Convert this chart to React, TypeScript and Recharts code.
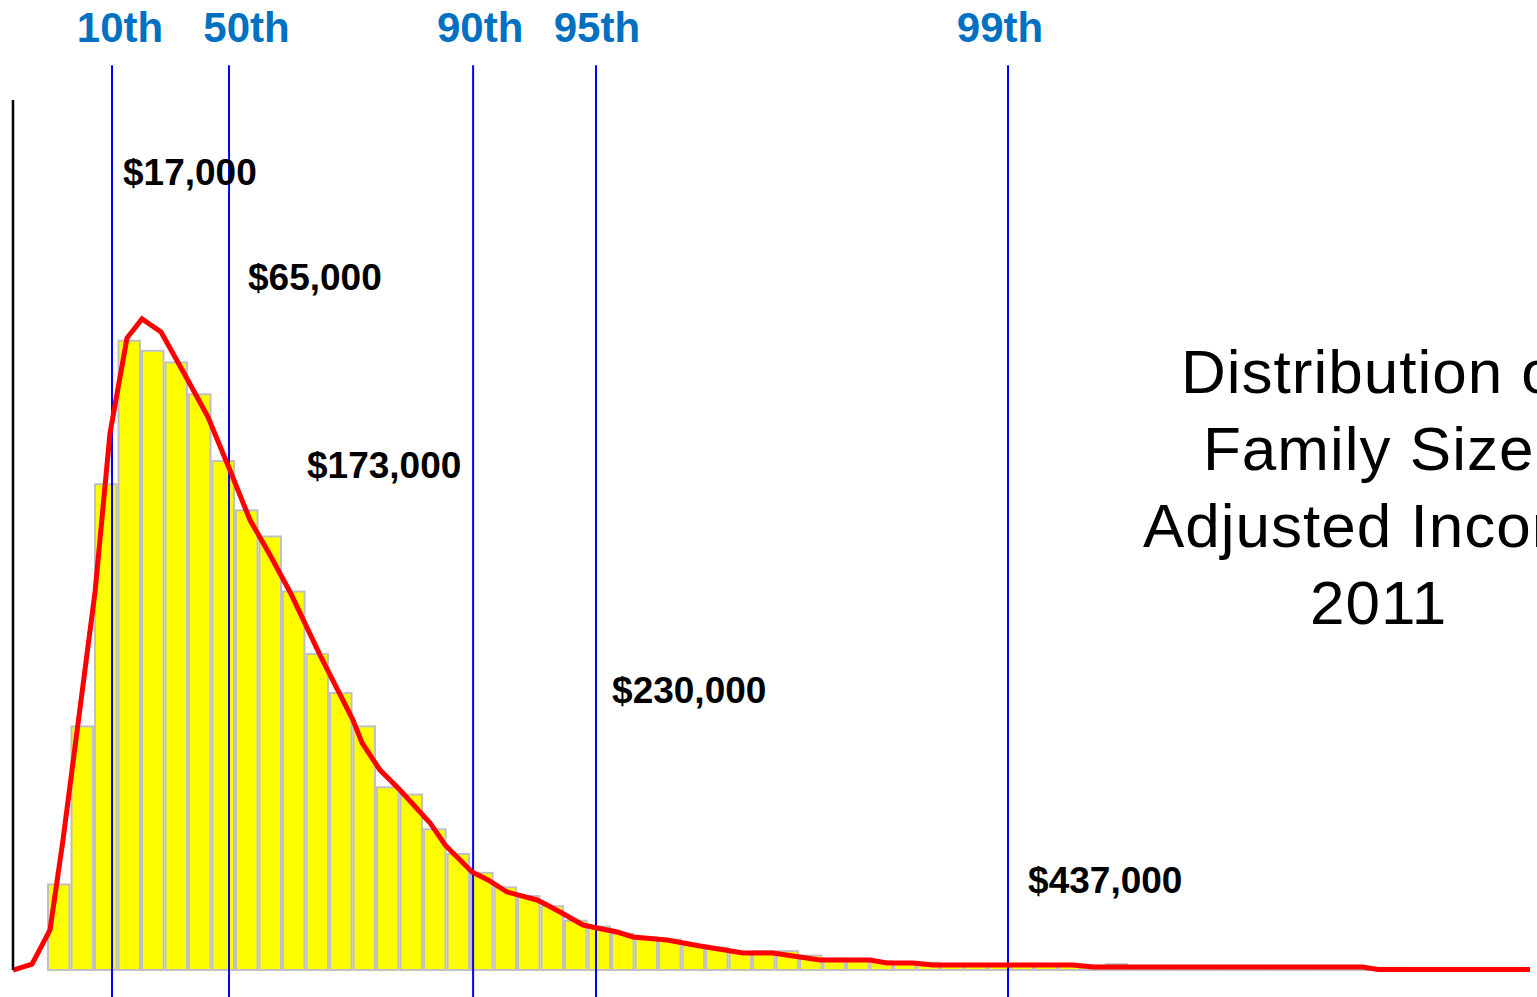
import {
    ComposedChart,
    Bar,
    Line,
    XAxis,
    YAxis,
    ReferenceLine,
    ReferenceDot,
} from "recharts";

// share of families per income bin (histogram, arbitrary units)
const binShares = [
    0.59, 1.68, 3.35, 4.34, 4.27, 4.19, 3.97, 3.51, 3.17, 2.99, 2.61, 2.18,
    1.91, 1.68, 1.26, 1.21, 0.97, 0.8, 0.67, 0.57, 0.51, 0.44, 0.34, 0.3,
    0.25, 0.225, 0.21, 0.17, 0.155, 0.12, 0.13, 0.13, 0.1, 0.08, 0.075, 0.06,
    0.055, 0.05, 0.04, 0.04, 0.04, 0.04, 0.04, 0.035, 0.03, 0.04, 0.02, 0.015,
    0.015, 0.015, 0.015, 0.015, 0.015, 0.015, 0.015, 0.015, 0.015, 0.015,
    0.005, 0.005, 0.005, 0.005, 0.005,
];

// smoothed density curve (x in bin units)
const curveX = [
    -1.447, -0.638, 0.128, 0.681, 2.043, 2.681, 3.404, 4.043, 4.851, 5.872,
    6.851, 7.745, 8.638, 9.489, 10.34, 11.617, 13.02, 13.404, 14.17, 15.02,
    16.3, 16.936, 18.085, 18.766, 19.574, 20.85, 21.277, 21.83, 22.81, 23.4,
    24.26, 24.94, 26.38, 27.79, 29.62, 30.89, 32.89, 35.02, 35.74, 36.85,
    37.7, 43.66, 44.51, 55.96, 56.64, 63.1,
];
const curveY = [
    0, 0.041, 0.276, 0.897, 2.607, 3.703, 4.359, 4.49, 4.4, 4.103, 3.814,
    3.462, 3.103, 2.862, 2.607, 2.172, 1.724, 1.566, 1.379, 1.241, 1.014,
    0.862, 0.676, 0.621, 0.538, 0.483, 0.448, 0.4, 0.31, 0.29, 0.262, 0.228,
    0.207, 0.166, 0.117, 0.117, 0.069, 0.069, 0.048, 0.048, 0.034, 0.034,
    0.021, 0.021, 0.004, 0.004,
];

const percentileNames = ["10th", "50th", "90th", "95th", "99th"];
const percentileBins = [2.766, 7.745, 18.13, 23.36, 40.89];
const percentileIncomes = ["$17,000", "$65,000", "$173,000", "$230,000", "$437,000"];

const titleLines = ["Distribution of", "Family Size", "Adjusted Income", "2011"];

// where the labels sit, in chart units
const nameSpots = [3.106, 8.489, 18.43, 23.4, 40.55];
const incomeSpots = [
    { x: 3.234, y: 5.414 },
    { x: 8.553, y: 4.69 },
    { x: 11.064, y: 3.393 },
    { x: 24.043, y: 1.841 },
    { x: 41.745, y: 0.531 },
];
const titleLeft = [1181, 1203, 1143, 1310];

const font = "'Liberation Sans', Arial, sans-serif";
const BAR_W = 21.5;

const bars = binShares.map((v, i) => ({ x: i + 0.5, share: v }));
const curve = curveX.map((x, i) => ({ x, density: curveY[i] }));

// fixed-width bar centred on its bin
function BinBar(props: any) {
    const { x, y, width, height } = props;
    if (height == null || height <= 0) return null;
    const cx = x + width / 2;
    return (
        <rect
            x={cx - BAR_W / 2}
            y={y}
            width={BAR_W}
            height={height}
            fill="#FFFF00"
            stroke="#C0C0C0"
            strokeWidth={2}
        />
    );
}

export default function App() {
    return (
        <div style={{ position: "absolute", left: 0, top: 0, background: "#fff" }}>
            <ComposedChart
                width={1537}
                height={997}
                data={bars}
                margin={{ top: 100, right: 7, bottom: 27, left: 9 }}
            >
                <XAxis
                    type="number"
                    dataKey="x"
                    domain={[-1.447, 63.1]}
                    allowDataOverflow
                    hide
                />
                <YAxis
                    type="number"
                    domain={[0, 6]}
                    ticks={[0, 1, 2, 3, 4, 5, 6]}
                    width={4}
                    tick={false}
                    tickSize={3}
                    axisLine={{ stroke: "#000", strokeWidth: 2.5 }}
                    tickLine={{ stroke: "#000", strokeWidth: 1 }}
                />

                <Bar
                    dataKey="share"
                    shape={BinBar}
                    isAnimationActive={false}
                />

                {percentileBins.map((p, i) => (
                    <ReferenceLine
                        key={percentileNames[i]}
                        segment={[
                            { x: p, y: -0.19 },
                            { x: p, y: 6.24 },
                        ]}
                        stroke="#0000FF"
                        strokeWidth={2}
                        ifOverflow="visible"
                    />
                ))}

                <Line
                    data={curve}
                    dataKey="density"
                    type="linear"
                    stroke="#FF0000"
                    strokeWidth={5}
                    dot={false}
                    isAnimationActive={false}
                />

                {percentileNames.map((name, i) => (
                    <ReferenceDot
                        key={"n" + name}
                        x={nameSpots[i]}
                        y={6.4}
                        r={0}
                        ifOverflow="visible"
                        shape={(p: any) => (
                            <text
                                x={p.cx}
                                y={p.cy}
                                textAnchor="middle"
                                fontFamily={font}
                                fontWeight="bold"
                                fontSize={42}
                                fill="#0070C0"
                            >
                                {name}
                            </text>
                        )}
                    />
                ))}

                {percentileIncomes.map((label, i) => (
                    <ReferenceDot
                        key={"v" + label}
                        x={incomeSpots[i].x}
                        y={incomeSpots[i].y}
                        r={0}
                        ifOverflow="visible"
                        shape={(p: any) => (
                            <text
                                x={p.cx}
                                y={p.cy}
                                fontFamily={font}
                                fontWeight="bold"
                                fontSize={37}
                                fill="#000"
                            >
                                {label}
                            </text>
                        )}
                    />
                ))}

                <ReferenceDot
                    x={50}
                    y={(970 - 393) / 145}
                    r={0}
                    ifOverflow="visible"
                    shape={(p: any) => (
                        <text
                            fontFamily={font}
                            fontSize={62}
                            letterSpacing={1}
                            fill="#000"
                        >
                            {titleLines.map((line, i) => (
                                <tspan key={line} x={titleLeft[i]} y={p.cy + i * 77}>
                                    {line}
                                </tspan>
                            ))}
                        </text>
                    )}
                />
            </ComposedChart>
        </div>
    );
}
